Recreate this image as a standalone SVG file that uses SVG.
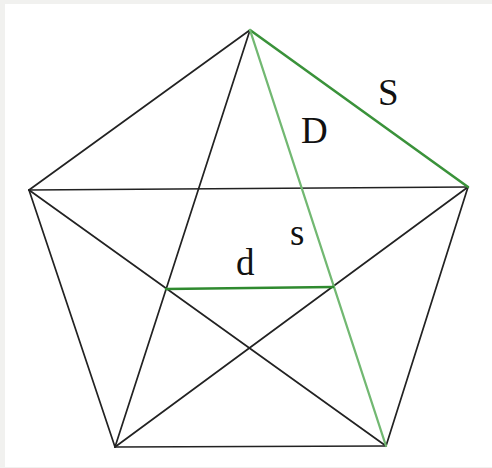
<svg xmlns="http://www.w3.org/2000/svg" width="492" height="468" viewBox="0 0 492 468">
<style>
.k{stroke:#222;stroke-width:1.7;fill:none;stroke-linecap:round}
.g1{stroke:#3a923a;stroke-width:2.6;fill:none;stroke-linecap:round}
.g2{stroke:#72b872;stroke-width:2.3;fill:none;stroke-linecap:round}
.g3{stroke:#2f8a2f;stroke-width:2.6;fill:none;stroke-linecap:round}
.t{font-family:"Liberation Serif",serif;font-size:37px;fill:#111}
</style>
<rect x="0" y="0" width="492" height="468" fill="#f1f1ef"/>
<rect x="5" y="4" width="487" height="463" fill="#ffffff"/>
<g id="connectors">
<line class="k" x1="250" y1="30" x2="29" y2="190"/>
<line class="k" x1="29" y1="190" x2="115" y2="447"/>
<line class="k" x1="115" y1="447" x2="386" y2="446"/>
<line class="k" x1="386" y1="446" x2="468" y2="187"/>
<line class="k" x1="250" y1="30" x2="115" y2="447"/>
<line class="k" x1="29" y1="190" x2="468" y2="187"/>
<line class="k" x1="29" y1="190" x2="386" y2="446"/>
<line class="k" x1="468" y1="187" x2="115" y2="447"/>
<line id="edge-S" class="g1" x1="250" y1="30" x2="468" y2="187"/>
<line id="edge-D" class="g2" x1="250" y1="30" x2="386" y2="446"/>
<line id="edge-d" class="g3" x1="166" y1="289" x2="333" y2="287"/>
</g>
<g id="label-S"><text class="t" x="378" y="105">S</text></g>
<g id="label-D"><text class="t" x="301" y="143">D</text></g>
<g id="label-s"><text class="t" x="290" y="245">s</text></g>
<g id="label-d"><text class="t" x="236" y="275">d</text></g>
</svg>
